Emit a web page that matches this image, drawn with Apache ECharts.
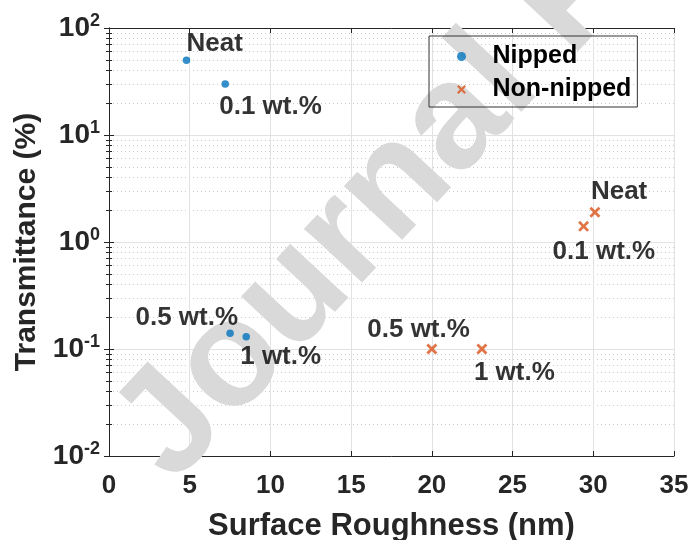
<!DOCTYPE html>
<html><head><meta charset="utf-8">
<script src="https://cdn.jsdelivr.net/npm/echarts@6/dist/echarts.min.js"></script>
<style>html,body{margin:0;padding:0;background:#fff}#c{width:693px;height:540px}</style>
</head><body><div id="c"></div>
<script>
// ---------- data ----------
const seriesNames = ['Nipped', 'Non-nipped'];
const nippedRoughness = [4.8, 7.2, 7.5, 8.5];
const nippedTransmittance = [50, 30, 0.14, 0.13];
const nippedLabels = ['Neat', '0.1 wt.%', '0.5 wt.%', '1 wt.%'];
const nonNippedRoughness = [30.1, 29.4, 20.0, 23.1];
const nonNippedTransmittance = [1.9, 1.4, 0.1, 0.1];
const nonNippedLabels = ['Neat', '0.1 wt.%', '0.5 wt.%', '1 wt.%'];
const xTickValues = [0, 5, 10, 15, 20, 25, 30, 35];
const yTickExponents = [-2, -1, 0, 1, 2];
const xAxisTitle = 'Surface Roughness (nm)';
const yAxisTitle = 'Transmittance (%)';
const watermarkText = 'Journal Pre-proof';

// ---------- styles ----------
const FONT = "'Liberation Sans', Arial, Helvetica, sans-serif";
const nippedLabelPlace = [
  {align: 'left', offset: [0, -16]},
  {align: 'left', offset: [-6, 23]},
  {align: 'right', offset: [8, -16]},
  {align: 'left', offset: [-6, 20]}
];
const nonNippedLabelPlace = [
  {align: 'left', offset: [-4, -20]},
  {align: 'left', offset: [-31, 25]},
  {align: 'right', offset: [38, -19]},
  {align: 'left', offset: [-8, 24]}
];
const X_PATH = 'path://M0,1.8L1.8,0L5,3.2L8.2,0L10,1.8L6.8,5L10,8.2L8.2,10L5,6.8L1.8,10L0,8.2L3.2,5Z';
const AXIS_COLOR = '#262626';

function buildData(xs, ys, labels, places) {
  return xs.map((x, i) => ({
    value: [x, ys[i]],
    label: {
      show: true, position: 'inside', formatter: labels[i],
      align: places[i].align, verticalAlign: 'middle', offset: places[i].offset,
      fontSize: 26, fontWeight: 'bold', color: '#000', fontFamily: FONT
    }
  }));
}

const yMin = Math.pow(10, yTickExponents[0]);
const yMax = Math.pow(10, yTickExponents[yTickExponents.length - 1]);

const chart = echarts.init(document.getElementById('c'), null, {renderer: 'canvas'});
const option = {
  animation: false,
  backgroundColor: '#fff',
  textStyle: {fontFamily: FONT},
  grid: {left: 109, right: 19, top: 28, bottom: 84, containLabel: false, outerBoundsMode: 'none'},
  legend: {
    data: seriesNames, orient: 'vertical', left: 429, top: 36,
    padding: [8, 6, 5, 28], itemWidth: 52, itemHeight: 9, itemGap: 8,
    borderColor: '#333', borderWidth: 1, backgroundColor: 'transparent',
    textStyle: {fontSize: 25, fontWeight: 'bold', color: '#000', fontFamily: FONT, lineHeight: 25},
    z: 20
  },
  xAxis: [{
    type: 'value', min: xTickValues[0], max: xTickValues[xTickValues.length - 1], interval: 5,
    position: 'bottom',
    axisLine: {show: true, lineStyle: {color: AXIS_COLOR, width: 1}},
    axisTick: {show: true, inside: true, length: 5, lineStyle: {color: AXIS_COLOR}},
    axisLabel: {show: true, margin: 17, fontSize: 26, fontWeight: 'bold', color: AXIS_COLOR, fontFamily: FONT},
    splitLine: {show: true, lineStyle: {color: '#e2e2e2', width: 1}},
    name: xAxisTitle, nameLocation: 'middle', nameGap: 55,
    nameTextStyle: {fontSize: 31, fontWeight: 'bold', color: AXIS_COLOR, fontFamily: FONT}
  }, {
    type: 'value', min: xTickValues[0], max: xTickValues[xTickValues.length - 1], interval: 5,
    position: 'top',
    axisLine: {show: true, lineStyle: {color: AXIS_COLOR, width: 1}},
    axisTick: {show: true, inside: true, length: 5, lineStyle: {color: AXIS_COLOR}},
    axisLabel: {show: false}, splitLine: {show: false}
  }],
  yAxis: [{
    type: 'log', logBase: 10, min: yMin, max: yMax, interval: 1,
    position: 'left',
    axisLine: {show: true, lineStyle: {color: AXIS_COLOR, width: 1}},
    axisTick: {show: true, inside: true, length: 5, lineStyle: {color: AXIS_COLOR}},
    minorTick: {show: true, splitNumber: 9, length: 3, lineStyle: {color: AXIS_COLOR}},
    minorSplitLine: {show: true, lineStyle: {color: '#cccccc', width: 1, type: [1, 3]}},
    splitLine: {show: true, lineStyle: {color: '#e2e2e2', width: 1}},
    axisLabel: {
      show: true, margin: 9, fontFamily: FONT,
      formatter: v => '{b|10}{s|' + Math.round(Math.log10(v)) + '}',
      rich: {
        b: {fontSize: 28, fontWeight: 'bold', color: AXIS_COLOR, fontFamily: FONT, lineHeight: 32},
        s: {fontSize: 18, fontWeight: 'bold', color: AXIS_COLOR, fontFamily: FONT, lineHeight: 18, verticalAlign: 'top'}
      }
    },
    name: yAxisTitle, nameLocation: 'middle', nameGap: 66, nameRotate: 90,
    nameTextStyle: {fontSize: 30, fontWeight: 'bold', color: AXIS_COLOR, fontFamily: FONT}
  }, {
    type: 'log', logBase: 10, min: yMin, max: yMax, interval: 1,
    position: 'right',
    axisLine: {show: true, lineStyle: {color: AXIS_COLOR, width: 1}},
    axisTick: {show: true, inside: true, length: 5, lineStyle: {color: AXIS_COLOR}},
    minorTick: {show: true, splitNumber: 9, length: 3, lineStyle: {color: AXIS_COLOR}},
    axisLabel: {show: false}, splitLine: {show: false}
  }],
  graphic: {
    elements: [{
      type: 'text', x: 143, y: 457, rotation: 47 * Math.PI / 180, z: 1, silent: true,
      style: {
        text: watermarkText, fill: '#d9d9d9',
        font: 'bold 150px ' + FONT, textAlign: 'left', textVerticalAlign: 'middle'
      }
    }]
  },
  series: [{
    name: seriesNames[0], type: 'scatter', xAxisIndex: 0, yAxisIndex: 0, z: 10,
    symbol: 'circle', symbolSize: 7.5,
    itemStyle: {color: '#0072BD'},
    data: buildData(nippedRoughness, nippedTransmittance, nippedLabels, nippedLabelPlace)
  }, {
    name: seriesNames[1], type: 'scatter', xAxisIndex: 0, yAxisIndex: 0, z: 10,
    symbol: X_PATH, symbolSize: 11,
    itemStyle: {color: '#D95319'},
    data: buildData(nonNippedRoughness, nonNippedTransmittance, nonNippedLabels, nonNippedLabelPlace)
  }]
};
chart.setOption(option);
</script>
</body></html>
